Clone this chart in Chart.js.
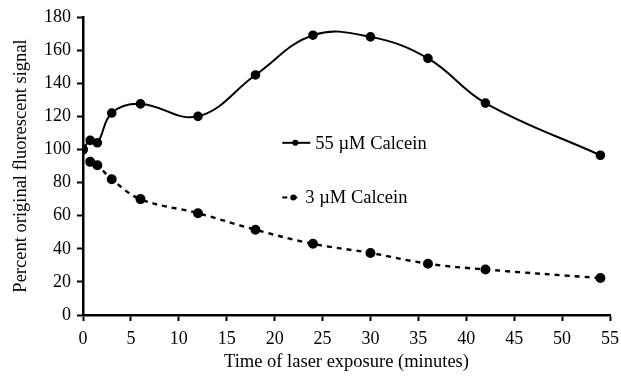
<!DOCTYPE html>
<html>
<head>
<meta charset="utf-8">
<script src="https://cdn.jsdelivr.net/npm/chart.js@4/dist/chart.umd.min.js"></script>
<style>
  html, body { margin: 0; padding: 0; background: #fff; }
  #wrap { width: 621px; height: 377px; }
</style>
</head>
<body>
<div id="wrap"><canvas id="chart" width="621" height="377"></canvas></div>
<script>
// Data
const timeMinutes = [0, 0.75, 1.5, 3, 6, 12, 18, 24, 30, 36, 42, 54];
const calcein55 = [100, 105.5, 104, 122, 127.5, 120, 145, 169, 168, 155, 128, 96.5];
const calcein3 = [100, 92.5, 90.5, 82, 70, 61.5, 51.5, 43, 37.5, 31, 27.5, 22.3];
const seriesNames = ['55 \u00b5M Calcein', '3 \u00b5M Calcein'];
const xTicks = [0, 5, 10, 15, 20, 25, 30, 35, 40, 45, 50, 55];
const yTicks = [0, 20, 40, 60, 80, 100, 120, 140, 160, 180];

const serif = '"Liberation Serif", "DejaVu Serif", serif';

function toPoints(values) {
  return timeMinutes.map((t, i) => ({ x: t, y: values[i] }));
}

// legend drawn inside the plot area, like the original
const innerLegend = {
  id: 'innerLegend',
  afterDatasetsDraw(chart) {
    const ctx = chart.ctx;
    const xs = chart.scales.x, ys = chart.scales.y;
    const spots = [{ x: 20.8, y: 104 }, { x: 20.8, y: 71 }];
    const lineLen = [28, 18];
    chart.data.datasets.forEach((ds, i) => {
      const px = xs.getPixelForValue(spots[i].x);
      const py = ys.getPixelForValue(spots[i].y);
      ctx.save();
      ctx.strokeStyle = '#000';
      ctx.lineWidth = 2;
      ctx.setLineDash(ds.borderDash || []);
      ctx.beginPath();
      ctx.moveTo(px, py);
      ctx.lineTo(px + lineLen[i], py);
      ctx.stroke();
      ctx.setLineDash([]);
      ctx.fillStyle = '#000';
      ctx.beginPath();
      ctx.arc(px + (i === 0 ? 13 : 11), py, 3, 0, Math.PI * 2);
      ctx.fill();
      ctx.font = '18.5px ' + serif;
      ctx.textBaseline = 'middle';
      ctx.fillText(ds.label, px + lineLen[i] + 5, py + 1);
      ctx.restore();
    });
  }
};

new Chart(document.getElementById('chart').getContext('2d'), {
  type: 'line',
  data: {
    datasets: [
      {
        label: seriesNames[0],
        data: toPoints(calcein55),
        borderColor: '#000',
        backgroundColor: '#000',
        borderWidth: 2,
        pointRadius: 3.8,
        tension: 0.4,
        fill: false
      },
      {
        label: seriesNames[1],
        data: toPoints(calcein3),
        borderColor: '#000',
        backgroundColor: '#000',
        borderWidth: 2.4,
        borderDash: [5, 5],
        pointRadius: 3.8,
        tension: 0.4,
        fill: false
      }
    ]
  },
  options: {
    responsive: false,
    animation: false,
    layout: { padding: { top: 17, right: 11, left: 0, bottom: 0 } },
    plugins: {
      legend: { display: false },
      tooltip: { enabled: false }
    },
    scales: {
      x: {
        type: 'linear',
        min: 0,
        max: 55,
        afterBuildTicks: axis => { axis.ticks = xTicks.map(v => ({ value: v })); },
        afterFit: axis => { axis.height = 62; axis.paddingRight = 0; axis.paddingLeft = 0; },
        border: { display: true, color: '#000', width: 2.5 },
        grid: { display: true, drawOnChartArea: false, drawTicks: true, tickLength: 6, tickWidth: 2, tickColor: '#000' },
        ticks: { color: '#000', font: { family: serif, size: 18 }, padding: 7, maxRotation: 0 },
        title: { display: true, text: 'Time of laser exposure (minutes)', color: '#000', font: { family: serif, size: 18.5 }, padding: { top: 0 } }
      },
      y: {
        min: 0,
        max: 180,
        afterBuildTicks: axis => { axis.ticks = yTicks.map(v => ({ value: v })); },
        afterFit: axis => { axis.width = 83; axis.paddingTop = 0; axis.paddingBottom = 0; },
        border: { display: true, color: '#000', width: 2.5 },
        grid: { display: true, drawOnChartArea: false, drawTicks: true, tickLength: 6, tickWidth: 2, tickColor: '#000' },
        ticks: { color: '#000', font: { family: serif, size: 18 }, padding: 6 },
        title: { display: true, text: 'Percent original fluorescent signal', color: '#000', font: { family: serif, size: 18.5 }, padding: { top: 10, bottom: 0 } }
      }
    }
  },
  plugins: [innerLegend]
});
</script>
</body>
</html>
